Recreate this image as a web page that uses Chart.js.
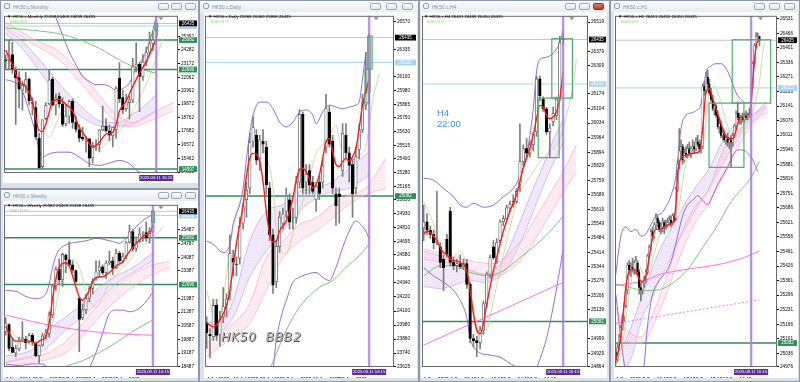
<!DOCTYPE html>
<html><head><meta charset="utf-8">
<script src="https://cdn.jsdelivr.net/npm/chart.js@4.4.0/dist/chart.umd.min.js"></script>
<style>
body{margin:0;width:800px;height:382px;overflow:hidden;background:#a9b3bf;position:relative;font-family:"Liberation Sans",Arial,sans-serif}
.win{position:absolute;background:#dce2e9;border:1px solid #8e9aa9;box-sizing:border-box}
.tb{position:absolute;left:0;top:0;right:0;height:11px;background:linear-gradient(#fbfcfd,#e7ecf1)}
.tt{position:absolute;left:12px;top:3px;font-size:5px;color:#8593a3;white-space:nowrap}
.ic{position:absolute;left:3px;top:2px;width:6px;height:6px;border:1px solid #7ea3c9;border-radius:2px;box-sizing:border-box}
.btn{position:absolute;top:2px;width:11px;height:7px;border:1px solid #9ca8b6;border-radius:2px;background:linear-gradient(#fdfdfe,#e1e6ec);box-sizing:border-box}
canvas{position:absolute;background:#fff}
.info{position:absolute;font-size:4.3px;color:#000;white-space:nowrap;z-index:5}
.tag{position:absolute;font-size:3.6px;color:#9bd67c;white-space:nowrap;z-index:5}
</style></head>
<body>
<div class="win" style="left:0;top:0;width:199px;height:189px"><div class="tb"><span class="ic"></span><span class="tt">HK50.c,Monthly</span><span class="btn" style="left:157px"></span><span class="btn" style="left:170px"></span><span class="btn" style="left:184px"></span></div></div>
<div class="win" style="left:0;top:189px;width:199px;height:193px"><div class="tb"><span class="ic"></span><span class="tt">HK50.c,Weekly</span><span class="btn" style="left:157px"></span><span class="btn" style="left:170px"></span><span class="btn" style="left:184px"></span></div></div>
<div class="win" style="left:199px;top:0;width:220px;height:382px"><div class="tb"><span class="ic"></span><span class="tt">HK50.c,Daily</span><span class="btn" style="left:170px"></span><span class="btn" style="left:186px"></span><span class="btn" style="left:202px"></span></div></div>
<div class="win" style="left:419px;top:0;width:191px;height:382px"><div class="tb"><span class="ic"></span><span class="tt">HK50.c,H4</span><span class="btn" style="left:145px"></span><span class="btn" style="left:159px"></span><span class="btn" style="left:173px;background:linear-gradient(#e0796e,#c2382c);border-color:#9c2c22"></span></div></div>
<div class="win" style="left:610px;top:0;width:190px;height:382px"><div class="tb"><span class="ic"></span><span class="tt">HK50.c,H1</span><span class="btn" style="left:143px"></span><span class="btn" style="left:158px"></span><span class="btn" style="left:173px"></span></div></div>

<canvas id="cM" width="195" height="171" style="left:3px;top:12px"></canvas>
<canvas id="cW" width="195" height="177" style="left:3px;top:201px"></canvas>
<canvas id="cD" width="213" height="366" style="left:204px;top:12px"></canvas>
<canvas id="cH" width="186" height="366" style="left:421px;top:12px"></canvas>
<canvas id="cP" width="184" height="366" style="left:614px;top:12px"></canvas>

<div class="info" style="left:7px;top:14px">▼ HK50.c,Monthly 25398 26469 24899 26435</div>
<div class="tag" style="left:10px;top:20px">BBB2 MTF</div>
<div class="info" style="left:7px;top:203px">▼ HK50.c,Weekly 25382 26469 25368 26435</div>
<div class="tag" style="left:10px;top:209px">BBB2 MTF</div>
<div class="info" style="left:208px;top:14px">▼ HK50.c,Daily 25968 26469 25868 26435</div>
<div class="tag" style="left:211px;top:20px">BBB2 MTF</div>
<div class="info" style="left:424px;top:14px">▼ HK50.c,H4 26441 26469 26410 26435</div>
<div class="tag" style="left:427px;top:20px">BBB2 MTF</div>
<div class="info" style="left:618px;top:14px">▼ HK50.c,H1 26451 26455 26410 26435</div>
<div class="tag" style="left:621px;top:20px">BBB2 MTF</div>
<div style="position:absolute;left:221px;top:329px;font-family:'DejaVu Sans';font-style:italic;font-size:12.5px;color:#b0b0b0;text-shadow:1px 1px 0 #555;white-space:pre;letter-spacing:0.5px;z-index:5">HK50  BBB2</div>
<div style="position:absolute;left:437px;top:107px;font-size:9.5px;line-height:11px;color:#3f8fe0;z-index:5">H4<br>22:00</div>

<script>
// ---------- MONTHLY ----------
const M_N = 52, M_MIN = 14278, M_MAX = 27050;
const M_XLAB = {0:'1 Dec 2021', 8:'1 Aug 2022', 16:'1 Apr 2023', 24:'1 Dec 2023', 32:'1 Aug 2024'};
const M_YTICKS = [25392,24282,23172,22062,20962,19872,18762,17682,16572,15462,14352];
const M_OHLC = [[23475,23880,22665,23398],[23510,25050,22719,23802],[23900,24924,22400,22713],[22600,22900,18235,21997],[22040,22520,19560,21089],[21000,21700,19380,21415],[21400,22450,20800,21860],[21900,22000,19800,20157],[20000,20400,19000,19954],[19600,20100,17000,17223],[17100,17500,14597,14687],[14800,18600,14600,18597],[18700,20000,18600,19781],[19900,22700,19800,21842],[21900,22070,19700,19786],[19800,20700,19000,20400],[20500,20800,19600,19895],[19900,20400,18050,18234],[18300,19800,18100,18916],[18900,20200,18300,20079],[20100,20300,17900,18382],[18400,18900,17600,17810],[17800,18200,16800,17112],[17200,18000,16900,17042],[17000,17200,15970,17047],[17050,17100,14794,15485],[15500,16800,15100,16511],[16500,17000,16100,16541],[16600,17800,16000,17763],[17800,19706,17700,18080],[18100,18700,17600,17719],[17700,18200,16900,17344],[17300,18000,16400,17989],[17800,21300,17100,21134],[22000,23241,20000,20317],[20400,21000,19100,19424],[19500,20700,19300,20060],[20000,20500,18670,20225],[20200,23600,20000,22941],[22900,24874,22500,23120],[23100,23300,19260,22119],[22100,23900,21800,23290],[23300,24500,23000,24072],[24100,25735,23900,24773],[24800,25800,24200,25077],[25398,26469,24899,26435]];
const M_RED = [[0,24270],[2,23065],[4,21726],[6,21325],[8,20120],[9,18781],[10,17710],[11,17657],[12,18246],[13,19183],[14,20120],[16,20254],[18,19852],[20,19317],[22,17978],[24,17175],[25,16640],[26,16372],[28,16774],[30,17443],[32,17577],[33,18246],[34,19317],[36,20120],[38,21325],[40,22396],[42,23333],[44,24537],[45,25153]];
const M_TAN = [[0,23734],[3,22395],[6,21191],[9,19317],[11,17845],[13,17175],[15,18246],[17,19317],[19,19050],[21,18514],[23,17710],[25,16908],[27,16238],[29,16372],[31,16908],[33,17443],[35,17978],[37,18781],[39,19852],[41,20922],[43,22127],[45,23600],[47,25206]];
const M_BBU = [[12,29000],[15,26946],[17,25474],[19,24135],[21,23065],[23,22128],[25,21726],[27,21459],[29,21459],[31,21325],[33,20977],[35,21137],[37,21592],[39,22797],[41,23600],[43,24939],[44,25876],[45,27080]];
const M_BBL = [[0,21860],[3,21592],[5,20923],[7,19317],[9,17443],[10,16105],[11,15570],[13,15837],[16,15971],[19,15971],[22,15570],[25,15034],[28,14900],[31,15088],[34,15301],[37,15034],[39,14498],[42,14231],[45,14365]];
const M_GREEN = [[0,26063],[8,25876],[18,25474],[28,24403],[34,23466],[38,22931],[42,22583],[45,22395]];
const M_PURU = [[0,26009],[4,25206],[8,24136],[13,22529],[18,20923],[23,19585],[28,18514],[33,18380],[38,19049],[42,19852],[45,20655]];
const M_PURL = [[0,25608],[4,24671],[8,23332],[13,21459],[18,19852],[23,18781],[28,18112],[33,18032],[38,18246],[42,18781],[45,19317]];
const M_PNKU = [[0,26545],[8,25206],[16,24136],[22,22529],[27,20923],[31,19585],[35,18648],[38,18380],[42,18915],[46,19451],[50,19986]];
const M_PNKL = [[0,26143],[8,24805],[16,23466],[22,21726],[27,20120],[31,18915],[35,18193],[38,18032],[42,18380],[46,18835],[50,19317]];

// ---------- WEEKLY ----------
const W_N = 52, W_MIN = 18480, W_MAX = 26765;
const W_XLAB = {0:'3 Nov 2024', 8:'29 Dec 2024', 16:'23 Feb 2025', 24:'20 Apr 2025', 32:'15 Jun 2025'};
const W_YTICKS = [25487,24787,24087,23387,21987,21287,20587,19887,19187,18487];
const W_OHLC = [[20300,21000,20100,20728],[20650,20700,19300,19426],[19500,19900,19200,19229],[19200,19600,19000,19424],[19400,20000,19300,19866],[19900,20800,19850,19971],[19900,20050,19400,19721],[19750,20200,19700,20090],[20100,20200,19600,19760],[19700,19750,19000,19064],[19050,19600,18670,19584],[19600,20200,19550,20066],[20100,20400,19900,20225],[20200,21300,20000,21133],[21150,22700,21000,22620],[22650,23600,22400,23478],[23500,24000,22700,22941],[22950,24300,22600,24231],[24200,24250,23300,23959],[23950,24874,23600,23690],[23700,23900,23300,23426],[23400,23450,22800,22849],[22000,22000,19260,20914],[21000,21700,20900,21395],[21400,22200,21200,21980],[22000,22600,21800,22504],[22500,23000,22200,22868],[23000,23900,22900,23345],[23400,23900,23100,23601],[23600,23700,23200,23290],[23300,23900,23000,23792],[23800,24400,23700,23892],[23900,24100,23200,23530],[23550,24500,23500,24284],[24300,24400,23800,23916],[23900,24300,23800,24140],[24150,24900,24000,24826],[24850,25735,24800,25388],[25400,25500,24400,24508],[24550,25000,24400,24859],[24900,25600,24850,25270],[25300,25400,24900,25339],[25350,25900,24900,25077],[25100,25600,24800,25418],[25382,26469,25368,26435]];
const W_RED = [[0,20553],[1,20220],[3,19803],[5,19803],[7,19803],[9,19687],[10,19803],[12,20053],[13,20720],[14,21970],[15,22970],[16,23554],[18,23804],[19,23637],[20,23137],[21,22554],[22,22054],[23,21887],[24,22087],[25,22387],[26,22804],[27,23054],[29,23087],[31,23304],[33,23637],[35,23854],[36,24137],[37,24387],[38,24587],[40,24971],[42,25254],[43,25304],[44,25721]];
const W_TAN = [[0,20720],[3,20053],[6,19720],[9,19553],[12,19887],[14,20720],[16,22387],[18,23554],[20,23971],[22,23554],[24,22387],[26,21637],[27,21554],[29,22054],[31,22804],[33,23221],[35,23554],[37,23887],[39,24387],[41,24721],[43,24887],[45,25221],[47,25638]];
const W_BBU = [[0,22387],[3,22354],[6,22087],[9,21970],[12,22220],[13,22720],[14,23554],[15,24137],[16,24471],[18,24721],[21,24854],[24,24921],[27,25054],[30,24971],[32,24887],[34,24804],[36,25054],[38,25471],[40,25804],[42,26088],[44,26254]];
const W_BBL = [[0,18636],[4,18553],[8,18636],[11,18636],[13,18400],[16,18000],[20,17600],[24,17900],[25,18386],[27,19220],[29,20220],[31,21220],[33,21387],[35,21387],[37,21304],[39,21387],[41,21637],[43,22054],[44,22304]];
const W_GREEN = [[17,18470],[23,18803],[28,19220],[33,19720],[38,20303],[44,20887]];
const W_MAG = [[0,21137],[8,20803],[18,20470],[28,20253],[38,20137],[44,20103]];
const W_PURU = [[0,19053],[4,19136],[8,19386],[13,20387],[18,21053],[23,21720],[28,22554],[33,23137],[38,23554],[42,24054],[44,24304]];
const W_PURL = [[0,18719],[4,18886],[8,19053],[13,19553],[18,20387],[23,21053],[28,21887],[33,22720],[38,23304],[42,23721],[44,23887]];
const W_PNKU = [[0,18719],[8,18970],[13,19220],[18,19803],[23,20720],[28,21720],[33,22554],[38,23221],[43,23637],[49,23887]];
const W_PNKL = [[0,18553],[8,18719],[13,18886],[18,19220],[23,20053],[28,21053],[33,21887],[38,22554],[43,23137],[49,23554]];

// ---------- DAILY ----------
const D_N = 57, D_MIN = 23622, D_MAX = 26621;
const D_XLAB = {0:'4 Jul 2025', 8:'16 Jul 2025', 16:'28 Jul 2025', 24:'7 Aug 2025', 32:'19 Aug 2025', 40:'29 Aug 2025'};
const D_YTICKS = [26570,26335,26100,25980,25865,25750,25630,25515,25400,25280,25165,25050,24930,24810,24695,24580,24460,24340,24220,24100,23980,23860,23740,23625];
const D_OHLC = [[24000,24050,23780,23916],[23900,23950,23700,23887],[23880,24200,23850,24148],[24150,24200,23850,23892],[23900,24100,23800,24028],[24050,24300,24000,24139],[24150,24250,24050,24203],[24250,24750,24200,24590],[24550,24620,24400,24517],[24500,24560,24400,24499],[24550,24900,24500,24826],[24850,25020,24800,24995],[25050,25200,24900,25131],[25150,25620,25100,25538],[25550,25760,25500,25667],[25600,25650,25350,25388],[25400,25600,25300,25562],[25550,25650,25450,25524],[25500,25550,25100,25176],[25150,25200,24700,24750],[24750,24800,24250,24320],[24350,24700,24300,24650],[24650,24950,24600,24902],[24850,24980,24800,24930],[24950,25150,24900,25081],[25050,25100,24800,24859],[24900,24980,24800,24907],[24900,25250,24850,25200],[25200,25820,25150,25780],[25780,25800,25100,25150],[25200,25350,25100,25270],[25300,25350,25100,25177],[25200,25250,25100,25122],[25050,25200,24950,25166],[25200,25250,25050,25105],[25200,25400,25150,25339],[25500,25950,25450,25829],[25800,25850,25500,25525],[25550,25600,25100,25150],[25100,25150,24830,24999],[25100,25150,24850,25077],[25300,25700,25250,25617],[25600,25700,25400,25450],[25450,25500,25200,25343],[25350,25400,24900,25100],[25150,25500,25100,25418],[25480,25700,25400,25650],[25650,25950,25620,25880],[25860,26310,25820,25968],[25968,26469,25868,26435]];
const D_RED = [[0,24000],[2,23965],[4,24020],[6,24150],[7,24275],[9,24680],[10,24842],[11,25000],[12,25250],[13,25404],[14,25446],[15,25440],[16,25376],[17,25206],[18,24950],[19,24760],[20,24690],[21,24698],[22,24783],[24,24868],[25,24952],[26,25065],[27,25206],[28,25308],[29,25319],[30,25291],[31,25234],[32,25150],[33,25181],[34,25265],[35,25404],[36,25545],[37,25573],[38,25460],[39,25350],[40,25333],[41,25376],[42,25404],[43,25376],[44,25418],[45,25488],[46,25658],[47,25858],[48,25969],[49,26080]];
const D_TAN = [[0,24275],[1,24164],[3,23950],[5,24200],[7,24650],[9,24950],[11,25122],[13,25450],[14,25520],[16,25520],[17,25488],[19,25319],[20,25150],[21,24800],[22,24641],[24,24588],[26,24757],[28,24952],[30,25122],[33,25446],[35,25520],[37,25600],[39,25689],[40,25560],[42,25376],[45,25404],[47,25450],[48,25500],[50,25884],[52,26124]];
const D_BBU = [[0,24698],[2,24670],[4,24613],[5,24600],[7,24670],[8,24842],[10,25011],[11,25150],[12,25400],[13,25620],[14,25773],[16,25884],[18,25884],[20,25827],[22,25715],[24,25672],[26,25715],[28,25799],[30,25816],[32,25773],[33,25700],[35,25800],[37,25858],[39,25842],[41,25827],[43,25842],[45,25858],[46,25884],[47,26081],[48,26307]];
const D_BBL = [[10,23300],[15,23300],[18,23450],[20,23597],[21,23851],[23,24105],[24,24190],[26,24345],[28,24388],[31,24420],[33,24430],[35,24388],[37,24360],[39,24472],[41,24641],[43,24783],[45,24868],[46,24853],[48,24783],[49,24715]];
const D_GREEN = [[19,23597],[24,23936],[28,24133],[34,24303],[38,24360],[42,24472],[46,24571],[49,24670]];
const D_PURU = [[0,24006],[4,24000],[8,24190],[13,24698],[18,24950],[23,25010],[28,25120],[33,25150],[38,25206],[43,25319],[49,25460]];
const D_PURL = [[0,23936],[4,23936],[8,24049],[13,24388],[18,24613],[23,24783],[28,24952],[33,25065],[38,25122],[43,25150],[49,25263]];
const D_PNKU = [[0,23826],[4,23910],[8,23995],[13,24164],[18,24557],[23,24698],[28,24839],[33,24896],[38,25009],[43,25093],[48,25150],[54,25404]];
const D_PNKL = [[0,23710],[4,23794],[8,23879],[13,23995],[18,24275],[23,24557],[28,24698],[33,24783],[38,24896],[43,25011],[48,25093],[54,25150]];

// ---------- H4 ----------
const H_N = 50, H_MIN = 24863, H_MAX = 26549;
const H_XLAB = {0:'1 Sep 2025', 8:'3 Sep 20:15', 16:'4 Sep 12:15', 24:'8 Sep 04:15', 32:'9 Sep 16:15'};
const H_YTICKS = [26519,26379,26309,26174,26104,26034,25964,25894,25829,25759,25689,25619,25549,25484,25414,25344,25276,25206,25139,24999,24929,24864];
const H_OHLC = [[25530,25640,25470,25560],[25560,25600,25500,25520],[25520,25540,25480,25500],[25500,25520,25430,25460],[25460,25706,25450,25470],[25440,25460,25340,25365],[25380,25400,25230,25340],[25476,25500,25390,25404],[25611,25630,25350,25365],[25365,25390,25330,25350],[25350,25380,25320,25360],[25360,25400,25335,25345],[25345,25380,25330,25360],[25360,25380,25240,25260],[25260,25270,24980,25000],[25000,25020,24960,24990],[24990,25010,24912,24980],[24980,25060,24950,25040],[25040,25180,25020,25166],[25166,25320,25150,25309],[25309,25400,25290,25388],[25440,25470,25380,25388],[25370,25480,25360,25460],[25470,25570,25460,25560],[25560,25590,25540,25575],[25575,25640,25570,25627],[25627,25660,25610,25643],[25643,25690,25630,25658],[25658,25720,25650,25706],[25740,26031,25706,25849],[25849,25930,25830,25912],[25912,25960,25870,25890],[25890,25950,25870,25930],[25930,25990,25900,25980],[25992,26260,25970,26246],[26246,26260,26140,26166],[26150,26160,26090,26103],[26103,26110,25980,25992],[25992,26030,25873,26010],[26040,26110,26020,26080],[26071,26160,26050,26150],[26150,26450,26140,26420],[26441,26469,26410,26435]];
const H_RED = [[0,25500],[1,25515],[2,25508],[3,25492],[4,25468],[5,25436],[6,25412],[7,25404],[8,25380],[10,25372],[11,25365],[13,25325],[14,25230],[15,25118],[16,25039],[17,25023],[18,25071],[19,25166],[20,25245],[21,25325],[22,25388],[23,25452],[24,25515],[25,25563],[26,25611],[27,25650],[28,25690],[29,25754],[30,25817],[31,25865],[32,25912],[33,25976],[34,26055],[35,26119],[36,26111],[37,26071],[38,26055],[39,26063],[40,26087],[41,26150],[42,26280]];
const H_TAN = [[0,25658],[3,25547],[5,25420],[8,25380],[11,25420],[13,25341],[15,25150],[17,25023],[19,25039],[21,25182],[23,25325],[25,25468],[27,25595],[29,25706],[31,25754],[33,25801],[35,25849],[37,25881],[39,25912],[41,25960],[43,26071],[45,26214],[46,26341]];
const H_BBU = [[0,25770],[3,25760],[6,25720],[9,25680],[11,25640],[13,25630],[15,25650],[18,25630],[21,25640],[24,25680],[27,25720],[29,25780],[31,25880],[33,26100],[34,26280],[35,26340],[37,26350],[39,26370],[41,26420],[42,26480]];
const H_BBL = [[0,25340],[3,25300],[6,25270],[9,25230],[12,25150],[13,25100],[14,25000],[15,24960],[17,24930],[20,24920],[23,24910],[26,24880],[28,24860],[31,24800],[33,24820],[35,24900],[37,25000],[39,25150],[41,25330],[42,25430]];
const H_GREEN = [[0,25301],[5,25349],[9,25349],[14,25317],[19,25301],[24,25325],[29,25388],[34,25452],[39,25531],[42,25587]];
const H_MAG = [[0,24968],[42,25269]];
const H_PURU = [[0,25420],[5,25395],[10,25360],[14,25330],[18,25310],[21,25320],[24,25380],[27,25480],[30,25600],[33,25720],[36,25830],[39,25950],[42,26050]];
const H_PURL = [[0,25250],[5,25240],[10,25260],[14,25280],[18,25270],[21,25280],[24,25310],[27,25390],[30,25490],[33,25610],[36,25730],[39,25840],[42,25940]];
const H_PNKU = [[0,25430],[5,25410],[10,25390],[15,25370],[20,25360],[24,25380],[27,25430],[30,25480],[33,25560],[36,25640],[39,25720],[42,25800],[46,25930]];
const H_PNKL = [[0,25380],[5,25370],[10,25350],[15,25320],[20,25300],[24,25310],[27,25340],[30,25390],[33,25460],[36,25540],[39,25620],[42,25700],[46,25800]];

// ---------- H1 ----------
const P_N = 97, P_MIN = 24975, P_MAX = 26544;
const P_XLAB = {0:'4 Sep 2025', 16:'5 Sep 19:15', 32:'8 Sep 18:15', 48:'9 Sep 17:15', 64:'10 Sep 16:15'};
const P_YTICKS = [26531,26466,26401,26336,26271,26206,26141,26076,26011,25946,25881,25816,25751,25686,25621,25556,25491,25426,25361,25296,25231,25166,25101,25036,24976];
const P_OHLC = [[25040,25060,24990,25010],[25010,25080,25000,25060],[25060,25120,25050,25110],[25110,25160,25090,25150],[25150,25210,25140,25200],[25200,25260,25180,25250],[25250,25330,25240,25320],[25320,25440,25300,25430],[25430,25450,25390,25410],[25410,25440,25380,25420],[25420,25460,25400,25410],[25410,25450,25390,25440],[25400,25470,25390,25450],[25440,25450,25380,25400],[25400,25410,25300,25330],[25330,25350,25270,25320],[25320,25360,25300,25350],[25350,25380,25330,25370],[25370,25410,25350,25400],[25400,25480,25390,25470],[25470,25520,25460,25510],[25510,25590,25500,25580],[25580,25600,25540,25560],[25560,25620,25550,25610],[25610,25660,25590,25640],[25640,25650,25600,25620],[25620,25630,25580,25590],[25590,25620,25570,25600],[25600,25640,25580,25620],[25620,25630,25570,25600],[25600,25630,25590,25610],[25610,25640,25600,25620],[25620,25650,25610,25630],[25630,25650,25600,25620],[25620,25660,25610,25650],[25650,25660,25620,25630],[25640,25780,25630,25770],[25770,25900,25760,25880],[25880,26040,25860,25940],[25940,25990,25900,25960],[25960,25970,25880,25900],[25900,25950,25890,25930],[25930,25960,25910,25920],[25920,25970,25910,25950],[25950,25980,25920,25930],[25930,25960,25910,25950],[25950,25990,25940,25960],[25960,25980,25930,25950],[25950,26000,25940,25980],[25980,26010,25960,25970],[25970,25990,25940,25950],[25950,25980,25930,25960],[25960,26240,25950,26230],[26230,26250,26190,26210],[26210,26290,26200,26270],[26270,26300,26220,26240],[26240,26260,26190,26200],[26200,26220,26160,26170],[26170,26190,26120,26130],[26130,26160,26100,26140],[26140,26150,26090,26100],[26100,26120,26040,26050],[26050,26080,26020,26060],[26060,26070,26000,26010],[26010,26040,25990,26020],[26020,26030,25980,25990],[25990,26010,25970,26000],[26000,26020,25960,25980],[25980,26000,25950,25990],[25990,26010,25870,25980],[25980,26020,25960,26010],[26010,26060,26000,26050],[26050,26120,26040,26110],[26110,26160,26080,26090],[26090,26110,26060,26080],[26080,26100,26060,26090],[26090,26110,26070,26080],[26080,26110,26070,26100],[26100,26120,26080,26090],[26090,26110,26080,26100],[26100,26130,26090,26110],[26110,26240,26100,26230],[26230,26340,26220,26330],[26330,26420,26320,26410],[26410,26469,26400,26450],[26450,26465,26430,26451],[26451,26455,26410,26435]];
const P_RED = [[0,25006],[2,25065],[4,25184],[6,25331],[8,25405],[10,25413],[12,25405],[14,25368],[16,25354],[18,25383],[20,25464],[22,25553],[24,25590],[26,25590],[28,25597],[30,25605],[32,25612],[34,25620],[36,25700],[37,25840],[39,25907],[42,25922],[46,25930],[50,25937],[52,26040],[54,26203],[56,26218],[58,26173],[60,26129],[62,26085],[64,26040],[66,26003],[68,25996],[70,25996],[72,26033],[74,26085],[76,26092],[78,26099],[80,26107],[82,26262],[84,26410],[86,26439]];
const P_TAN = [[0,24980],[4,25080],[8,25300],[11,25420],[14,25430],[17,25380],[20,25400],[23,25480],[26,25560],[29,25600],[32,25610],[35,25630],[38,25700],[41,25850],[44,25930],[47,25940],[50,25950],[53,26000],[56,26200],[59,26230],[62,26180],[65,26100],[68,26030],[71,26000],[74,26020],[77,26060],[80,26090],[83,26140],[86,26250],[88,26380],[89,26425]];
const P_BBU = [[0,25390],[3,25560],[6,25600],[9,25580],[12,25590],[15,25560],[18,25570],[21,25610],[24,25650],[27,25660],[30,25690],[33,25740],[36,25830],[39,26040],[42,26100],[45,26110],[48,26120],[51,26150],[54,26290],[57,26320],[60,26330],[63,26330],[66,26310],[69,26260],[72,26200],[75,26170],[78,26155],[81,26160],[83,26340],[85,26470]];
const P_BBL = [[0,25300],[3,25100],[5,24990],[8,24900],[14,24850],[17,24990],[19,25160],[22,25300],[25,25350],[28,25380],[31,25410],[34,25470],[37,25560],[40,25650],[43,25700],[46,25720],[49,25740],[52,25720],[55,25700],[58,25740],[61,25790],[64,25830],[67,25870],[70,25920],[73,25945],[76,25944],[79,25930],[82,25900],[85,25848]];
const P_GREEN = [[0,25346],[8,25331],[18,25316],[26,25320],[36,25361],[44,25420],[52,25509],[60,25597],[68,25701],[74,25760],[80,25810],[86,25893]];
const P_MAG = [[0,25339],[17,25361],[27,25390],[37,25405],[47,25417],[57,25427],[67,25442],[77,25464],[86,25494]];
const P_MAGD = [[0,25170],[86,25275]];
const P_PURU = [[4,25060],[9,25150],[16,25300],[21,25400],[26,25494],[31,25565],[36,25627],[41,25700],[46,25760],[51,25810],[56,25863],[66,26011],[76,26085],[84,26114],[90,26159]];
const P_PURL = [[4,24950],[9,25010],[16,25200],[21,25272],[26,25360],[31,25435],[36,25520],[41,25583],[46,25655],[51,25716],[56,25774],[66,25907],[76,26026],[84,26085],[90,26129]];
const P_PNKU = [[0,25243],[5,25154],[15,25110],[23,25228],[31,25391],[39,25568],[47,25686],[55,25760],[65,25952],[77,26055],[85,26114],[91,26144]];
const P_PNKL = [[0,25124],[5,25095],[15,25080],[23,25169],[31,25317],[39,25479],[47,25612],[55,25701],[65,25833],[77,26011],[85,26085],[91,26114]];

// ---------- common levels ----------
const LV_PRICE = 26435, LV_BLUE = 26222, LV_GREEN = 25082, LV_GREEN2 = 22690, LV_GREEN3 = 14597;
const TIME_TEXT = '2025.09.11 16:15';

Chart.defaults.font.family = '"Liberation Sans", Arial, sans-serif';
Chart.defaults.color = '#000';

function hatch(bg, line) {
  const c = document.createElement('canvas'); c.width = 3; c.height = 3;
  const g = c.getContext('2d');
  g.fillStyle = bg; g.fillRect(0, 0, 3, 3);
  g.strokeStyle = line; g.lineWidth = 0.6;
  g.beginPath(); g.moveTo(0, 3); g.lineTo(3, 0); g.moveTo(-1, 1); g.lineTo(1, -1); g.moveTo(2, 4); g.lineTo(4, 2); g.stroke();
  return g.createPattern(c, 'repeat');
}
const PINK_FILL = hatch('rgba(255,215,228,0.32)', 'rgba(255,140,175,0.30)');
const PURP_FILL = hatch('rgba(225,205,245,0.35)', 'rgba(180,135,225,0.30)');

function pts(a) { return a.map(p => ({x: p[0], y: p[1]})); }
function ln(a, color, w, order, extra) {
  return Object.assign({type: 'line', data: pts(a), borderColor: color, borderWidth: w, pointRadius: 0,
    pointHoverRadius: 0, fill: false, cubicInterpolationMode: 'monotone', order: order}, extra || {});
}

const mt4 = {
  id: 'mt4',
  beforeDatasetsDraw(chart, args, o) {
    const ctx = chart.ctx, a = chart.chartArea, y = chart.scales.y;
    ctx.save();
    ctx.beginPath(); ctx.rect(a.left, a.top, a.right - a.left, a.bottom - a.top); ctx.clip();
    for (const h of o.hlines) {
      const py = y.getPixelForValue(h.v);
      ctx.strokeStyle = h.c; ctx.lineWidth = h.w;
      ctx.beginPath(); ctx.moveTo(a.left, py); ctx.lineTo(a.right, py); ctx.stroke();
    }
    ctx.restore();
  },
  afterDatasetsDraw(chart, args, o) {
    const ctx = chart.ctx, a = chart.chartArea, x = chart.scales.x, y = chart.scales.y;
    ctx.save();
    ctx.beginPath(); ctx.rect(a.left, a.top, a.right - a.left, a.bottom - a.top); ctx.clip();
    const vx = x.getPixelForValue(o.vline);
    ctx.strokeStyle = 'rgba(185,150,235,0.75)'; ctx.lineWidth = 2.6;
    ctx.beginPath(); ctx.moveTo(vx, a.top); ctx.lineTo(vx, a.bottom); ctx.stroke();
    ctx.strokeStyle = 'rgba(130,80,205,0.8)'; ctx.lineWidth = 0.7;
    ctx.beginPath(); ctx.moveTo(vx, a.top); ctx.lineTo(vx, a.bottom); ctx.stroke();
    ctx.strokeStyle = '#4cae68'; ctx.lineWidth = 1.2;
    for (const r of o.rects) {
      const x0 = x.getPixelForValue(r[0]), x1 = x.getPixelForValue(r[1]);
      const y0 = y.getPixelForValue(r[3]), y1 = y.getPixelForValue(r[2]);
      ctx.strokeRect(x0, y0, x1 - x0, y1 - y0);
    }
    ctx.restore();
  },
  afterDraw(chart, args, o) {
    const ctx = chart.ctx, a = chart.chartArea, x = chart.scales.x, y = chart.scales.y;
    ctx.save();
    ctx.strokeStyle = '#6a6a6a'; ctx.lineWidth = 1;
    ctx.strokeRect(a.left + 0.5, a.top + 0.5, a.right - a.left - 1, a.bottom - a.top - 1);
    const bw = chart.width - a.right - 2;
    ctx.textAlign = 'center'; ctx.textBaseline = 'middle';
    ctx.font = '4.5px "Liberation Sans"';
    for (const b of o.boxes) {
      const py = y.getPixelForValue(b.v);
      ctx.fillStyle = b.bg; ctx.fillRect(a.right + 1, py - 2.9, bw, 5.8);
      ctx.fillStyle = b.fg; ctx.fillText(b.t, a.right + 1 + bw / 2, py + 0.2);
    }
    const tx = x.getPixelForValue(o.vline);
    ctx.fillStyle = '#5b2a9e'; ctx.fillRect(tx - 17, a.bottom + 2, 34, 6);
    ctx.fillStyle = '#fff'; ctx.font = '4.2px "Liberation Sans"';
    ctx.fillText(TIME_TEXT, tx, a.bottom + 5.1);
    const sx = x.getPixelForValue(o.shift);
    ctx.fillStyle = '#8c8c8c';
    ctx.beginPath(); ctx.moveTo(sx - 2.5, a.top + 1.5); ctx.lineTo(sx + 2.5, a.top + 1.5); ctx.lineTo(sx, a.top + 4.5); ctx.fill();
    ctx.restore();
  }
};

function panel(id, c) {
  const labels = Array.from({length: c.n}, (_, i) => i);
  const ds = [];
  ds.push(ln(c.pnkU, 'rgba(255,150,182,0.85)', 0.7, 9, {fill: '+1', backgroundColor: PINK_FILL}));
  ds.push(ln(c.pnkL, 'rgba(255,150,182,0.85)', 0.7, 9));
  ds.push(ln(c.purU, 'rgba(190,150,235,0.9)', 0.7, 9, {fill: '+1', backgroundColor: PURP_FILL}));
  ds.push(ln(c.purL, 'rgba(190,150,235,0.9)', 0.7, 9));
  if (c.green) ds.push(ln(c.green, '#6cc06c', 0.9, 6));
  if (c.mag) ds.push(ln(c.mag, '#ff6cf0', 1, 6));
  if (c.magd) ds.push(ln(c.magd, '#e070e8', 0.9, 6, {borderDash: [2, 2]}));
  ds.push(ln(c.bbU, '#8a5ccc', 0.9, 6));
  ds.push(ln(c.bbL, '#8a5ccc', 0.9, 6));
  ds.push(ln(c.tan, '#d8cf9e', 0.9, 6));
  ds.push({type: 'bar', data: c.ohlc.map(d => [d[2], d[1]]), backgroundColor: '#7d7d7d', borderWidth: 0,
    barThickness: 1, grouped: false, order: 4});
  ds.push({type: 'bar', data: c.ohlc.map(d => [d[0], d[3]]),
    backgroundColor: c.ohlc.map(d => d[3] >= d[0] ? '#ffffff' : '#000000'),
    borderColor: c.ohlc.map(d => d[3] >= d[0] ? '#5e5e5e' : '#000000'),
    borderWidth: c.bb, borderSkipped: false, barThickness: c.bw, grouped: false, order: 3});
  ds.push(ln(c.red, '#ff1a1a', 1.4, 1));
  new Chart(document.getElementById(id), {
    type: 'bar',
    data: {labels: labels, datasets: ds},
    options: {
      responsive: false, animation: false, devicePixelRatio: 1,
      layout: {padding: {left: 1, top: 1, right: 0, bottom: 0}, autoPadding: false},
      plugins: {legend: {display: false}, tooltip: {enabled: false}, mt4: c.deco},
      scales: {
        x: {type: 'category', offset: true, grid: {display: false}, border: {display: false},
          ticks: {autoSkip: false, maxRotation: 0, minRotation: 0, align: 'start', padding: 1.5,
            font: {size: 4.9}, color: '#000', callback: (v, i) => c.xlab[i] || ''},
          afterFit: s => { s.height = c.xh; }},
        y: {type: 'linear', position: 'right', min: c.min, max: c.max,
          afterBuildTicks: s => { s.ticks = c.yticks.map(v => ({value: v})); },
          grid: {drawOnChartArea: false, drawTicks: true, tickLength: 2, color: '#000'},
          border: {display: false},
          ticks: {autoSkip: false, padding: 1, font: {size: 4.7}, color: '#000', callback: v => String(v)},
          afterFit: s => { s.width = c.yw; }}
      }
    },
    plugins: [mt4]
  });
}

const HL_BASE = [{v: LV_PRICE, c: '#c4c4c4', w: 1}, {v: LV_BLUE, c: '#a9d5f5', w: 1}, {v: LV_GREEN, c: '#2f8f55', w: 1.5}];
const BX_BASE = [{v: LV_BLUE, t: String(LV_BLUE), bg: '#a9d5f5', fg: '#ffffff'}, {v: LV_GREEN, t: String(LV_GREEN), bg: '#2f8f55', fg: '#ffffff'}, {v: LV_PRICE, t: String(LV_PRICE), bg: '#000000', fg: '#ffffff'}];

panel('cM', {n: M_N, min: M_MIN, max: M_MAX, xlab: M_XLAB, yticks: M_YTICKS, ohlc: M_OHLC, red: M_RED, tan: M_TAN,
  bbU: M_BBU, bbL: M_BBL, green: M_GREEN, purU: M_PURU, purL: M_PURL, pnkU: M_PNKU, pnkL: M_PNKL,
  bw: 2.6, bb: 0.8, xh: 10, yw: 20,
  deco: {hlines: HL_BASE.concat([{v: LV_GREEN2, c: '#2f8f55', w: 1.5}, {v: LV_GREEN3, c: '#2f8f55', w: 1.5}]),
    boxes: [BX_BASE[0], BX_BASE[1], {v: LV_GREEN2, t: String(LV_GREEN2), bg: '#2f8f55', fg: '#fff'}, {v: LV_GREEN3, t: String(LV_GREEN3), bg: '#2f8f55', fg: '#fff'}, BX_BASE[2]],
    vline: 45, shift: 46.4, rects: [[44.6, 45.4, 25868, 26439]]}});

panel('cW', {n: W_N, min: W_MIN, max: W_MAX, xlab: W_XLAB, yticks: W_YTICKS, ohlc: W_OHLC, red: W_RED, tan: W_TAN,
  bbU: W_BBU, bbL: W_BBL, green: W_GREEN, mag: W_MAG, purU: W_PURU, purL: W_PURL, pnkU: W_PNKU, pnkL: W_PNKL,
  bw: 2.6, bb: 0.8, xh: 11, yw: 20,
  deco: {hlines: HL_BASE.concat([{v: LV_GREEN2, c: '#2f8f55', w: 1.5}]),
    boxes: [BX_BASE[0], BX_BASE[1], {v: LV_GREEN2, t: String(LV_GREEN2), bg: '#2f8f55', fg: '#fff'}, BX_BASE[2]],
    vline: 44, shift: 46.4, rects: [[43.6, 44.4, 25868, 26439]]}});

panel('cD', {n: D_N, min: D_MIN, max: D_MAX, xlab: D_XLAB, yticks: D_YTICKS, ohlc: D_OHLC, red: D_RED, tan: D_TAN,
  bbU: D_BBU, bbL: D_BBL, green: D_GREEN, purU: D_PURU, purL: D_PURL, pnkU: D_PNKU, pnkL: D_PNKL,
  bw: 2.6, bb: 0.8, xh: 11, yw: 23,
  deco: {hlines: HL_BASE, boxes: BX_BASE, vline: 49, shift: 51.1,
    rects: [[48.6, 49.9, 26166, 26449], [47.75, 49.05, 25878, 26166]]}});

panel('cH', {n: H_N, min: H_MIN, max: H_MAX, xlab: H_XLAB, yticks: H_YTICKS, ohlc: H_OHLC, red: H_RED, tan: H_TAN,
  bbU: H_BBU, bbL: H_BBL, green: H_GREEN, mag: H_MAG, purU: H_PURU, purL: H_PURL, pnkU: H_PNKU, pnkL: H_PNKL,
  bw: 2.6, bb: 0.8, xh: 11, yw: 19,
  deco: {hlines: HL_BASE, boxes: BX_BASE, vline: 42, shift: 44.6,
    rects: [[34.5, 40.8, 25868, 26154], [38.6, 44.8, 26154, 26439]]}});

panel('cP', {n: P_N, min: P_MIN, max: P_MAX, xlab: P_XLAB, yticks: P_YTICKS, ohlc: P_OHLC, red: P_RED, tan: P_TAN,
  bbU: P_BBU, bbL: P_BBL, green: P_GREEN, mag: P_MAG, magd: P_MAGD, purU: P_PURU, purL: P_PURL, pnkU: P_PNKU, pnkL: P_PNKL,
  bw: 1.6, bb: 0.5, xh: 11, yw: 21,
  deco: {hlines: HL_BASE, boxes: BX_BASE, vline: 81, shift: 86.7,
    rects: [[69.7, 92.7, 26154, 26437], [55.8, 76.7, 25867, 26154]]}});
</script>
</body></html>
